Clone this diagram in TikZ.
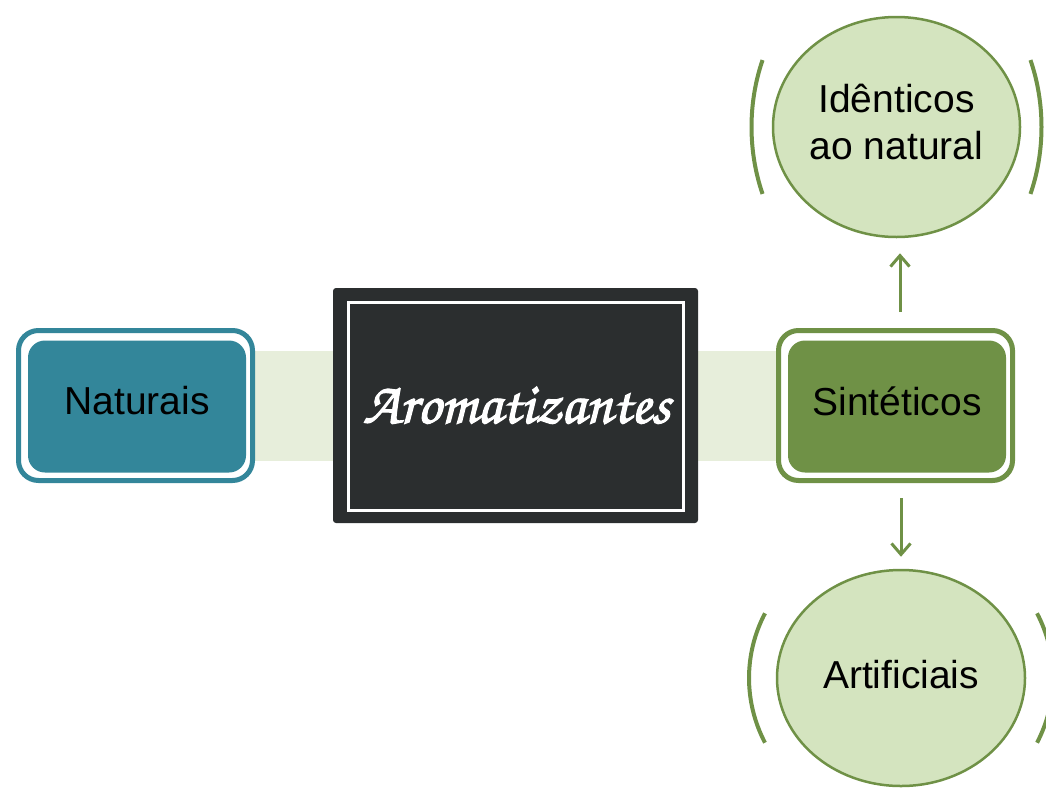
\documentclass[tikz,border=0pt]{standalone}
\usepackage[T1]{fontenc}
\usepackage{fontspec}
\setmainfont{Liberation Sans}
\usepackage{graphicx}
\usetikzlibrary{shapes.geometric,arrows.meta,backgrounds,calc}
\definecolor{tealc}{HTML}{33869A}
\definecolor{olivec}{HTML}{6F9146}
\definecolor{palegreen}{HTML}{D4E4BF}
\definecolor{bandc}{HTML}{E7EEDB}
\definecolor{boardc}{HTML}{2B2E2F}
\newcommand\aromfont{\fontencoding{T1}\fontfamily{pzc}\fontseries{mb}\fontshape{it}\selectfont}
\newcommand\liftup[2]{\raisebox{#1}[\height][\depth]{#2}}
\tikzset{
  outerbox/.style={draw=#1, line width=5pt, fill=white, rounded corners=20pt,
    minimum width=234pt, minimum height=150pt, inner sep=0pt},
  innerbox/.style={fill=#1, rounded corners=17pt, minimum width=218pt,
    minimum height=132pt, inner sep=0pt, text=black,
    font=\fontsize{39pt}{47pt}\selectfont},
  bubble/.style={ellipse, draw=olivec, line width=2.5pt, fill=palegreen,
    inner sep=0pt, align=center, font=\fontsize{39pt}{47pt}\selectfont},
  band/.style={bandc, line width=110pt},
  arr/.style={olivec, line width=3pt, -{Straight Barb[length=11pt,width=19pt,line width=3pt]}},
  brk/.style={olivec, line width=4pt},
}
\begin{document}
\begin{tikzpicture}[x=1pt,y=-1pt]
\useasboundingbox (0,0) rectangle (1046,787);
% central board
\node[fill=boardc, rounded corners=3pt, minimum width=365pt, minimum height=235pt, inner sep=0pt] (arom) at (515.5,405.5) {};
\node[draw=white, line width=3pt, minimum width=335pt, minimum height=208pt, inner sep=0pt] (aromframe) at (515.5,406) {};
\node[text=white, inner sep=0pt, anchor=base] (aromtext) at (516.5,423) {\resizebox{307pt}{!}{\special{pdf:literal direct 0.2 w 1 1 1 RG 2 Tr}\aromfont Aromatizantes\special{pdf:literal direct 0 Tr}}};
% Naturais
\node[outerbox=tealc] (nat) at (135.5,405.5) {};
\node[innerbox=tealc] (nati) at (137,406.5) {\liftup{6pt}{Naturais}};
% Sinteticos
\node[outerbox=olivec] (sint) at (895.5,405.5) {};
\node[innerbox=olivec] (sinti) at (897,406.5) {\liftup{5pt}{Sintéticos}};
% bubbles
\node[bubble, minimum width=247pt, minimum height=220pt] (iden) at (896.5,127) {\begin{tabular}{@{}c@{}}Idênticos\\ao natural\end{tabular}};
\node[bubble, minimum width=248pt, minimum height=216pt] (art) at (901,678) {\liftup{3pt}{Artificiais}};
% bands
\begin{scope}[on background layer]
\draw[band] (nat.center) -- (arom.center);
\draw[band] (arom.center) -- (sint.center);
\end{scope}
% arrows
\coordinate (upx) at (900,0);
\coordinate (dnx) at (901,0);
\draw[arr] ($(sint.north -| upx)+(0,-16)$) -- ($(iden.south -| upx)+(0,15)$);
\draw[arr] ($(sint.south -| dnx)+(0,15)$) -- ($(art.north -| dnx)+(0,-12)$);
% brackets
\draw[brk] (iden.center) ++(157.5:145 and 175) arc[start angle=157.5, end angle=202.5, x radius=145, y radius=175];
\draw[brk] (iden.center) ++(-22.5:145 and 175) arc[start angle=-22.5, end angle=22.5, x radius=145, y radius=175];
\draw[brk] (art.center) ++(153.5:152 and 145) arc[start angle=153.5, end angle=206.5, x radius=152, y radius=145];
\draw[brk] (art.center) ++(-26.5:152 and 145) arc[start angle=-26.5, end angle=26.5, x radius=152, y radius=145];
\end{tikzpicture}
\end{document}
